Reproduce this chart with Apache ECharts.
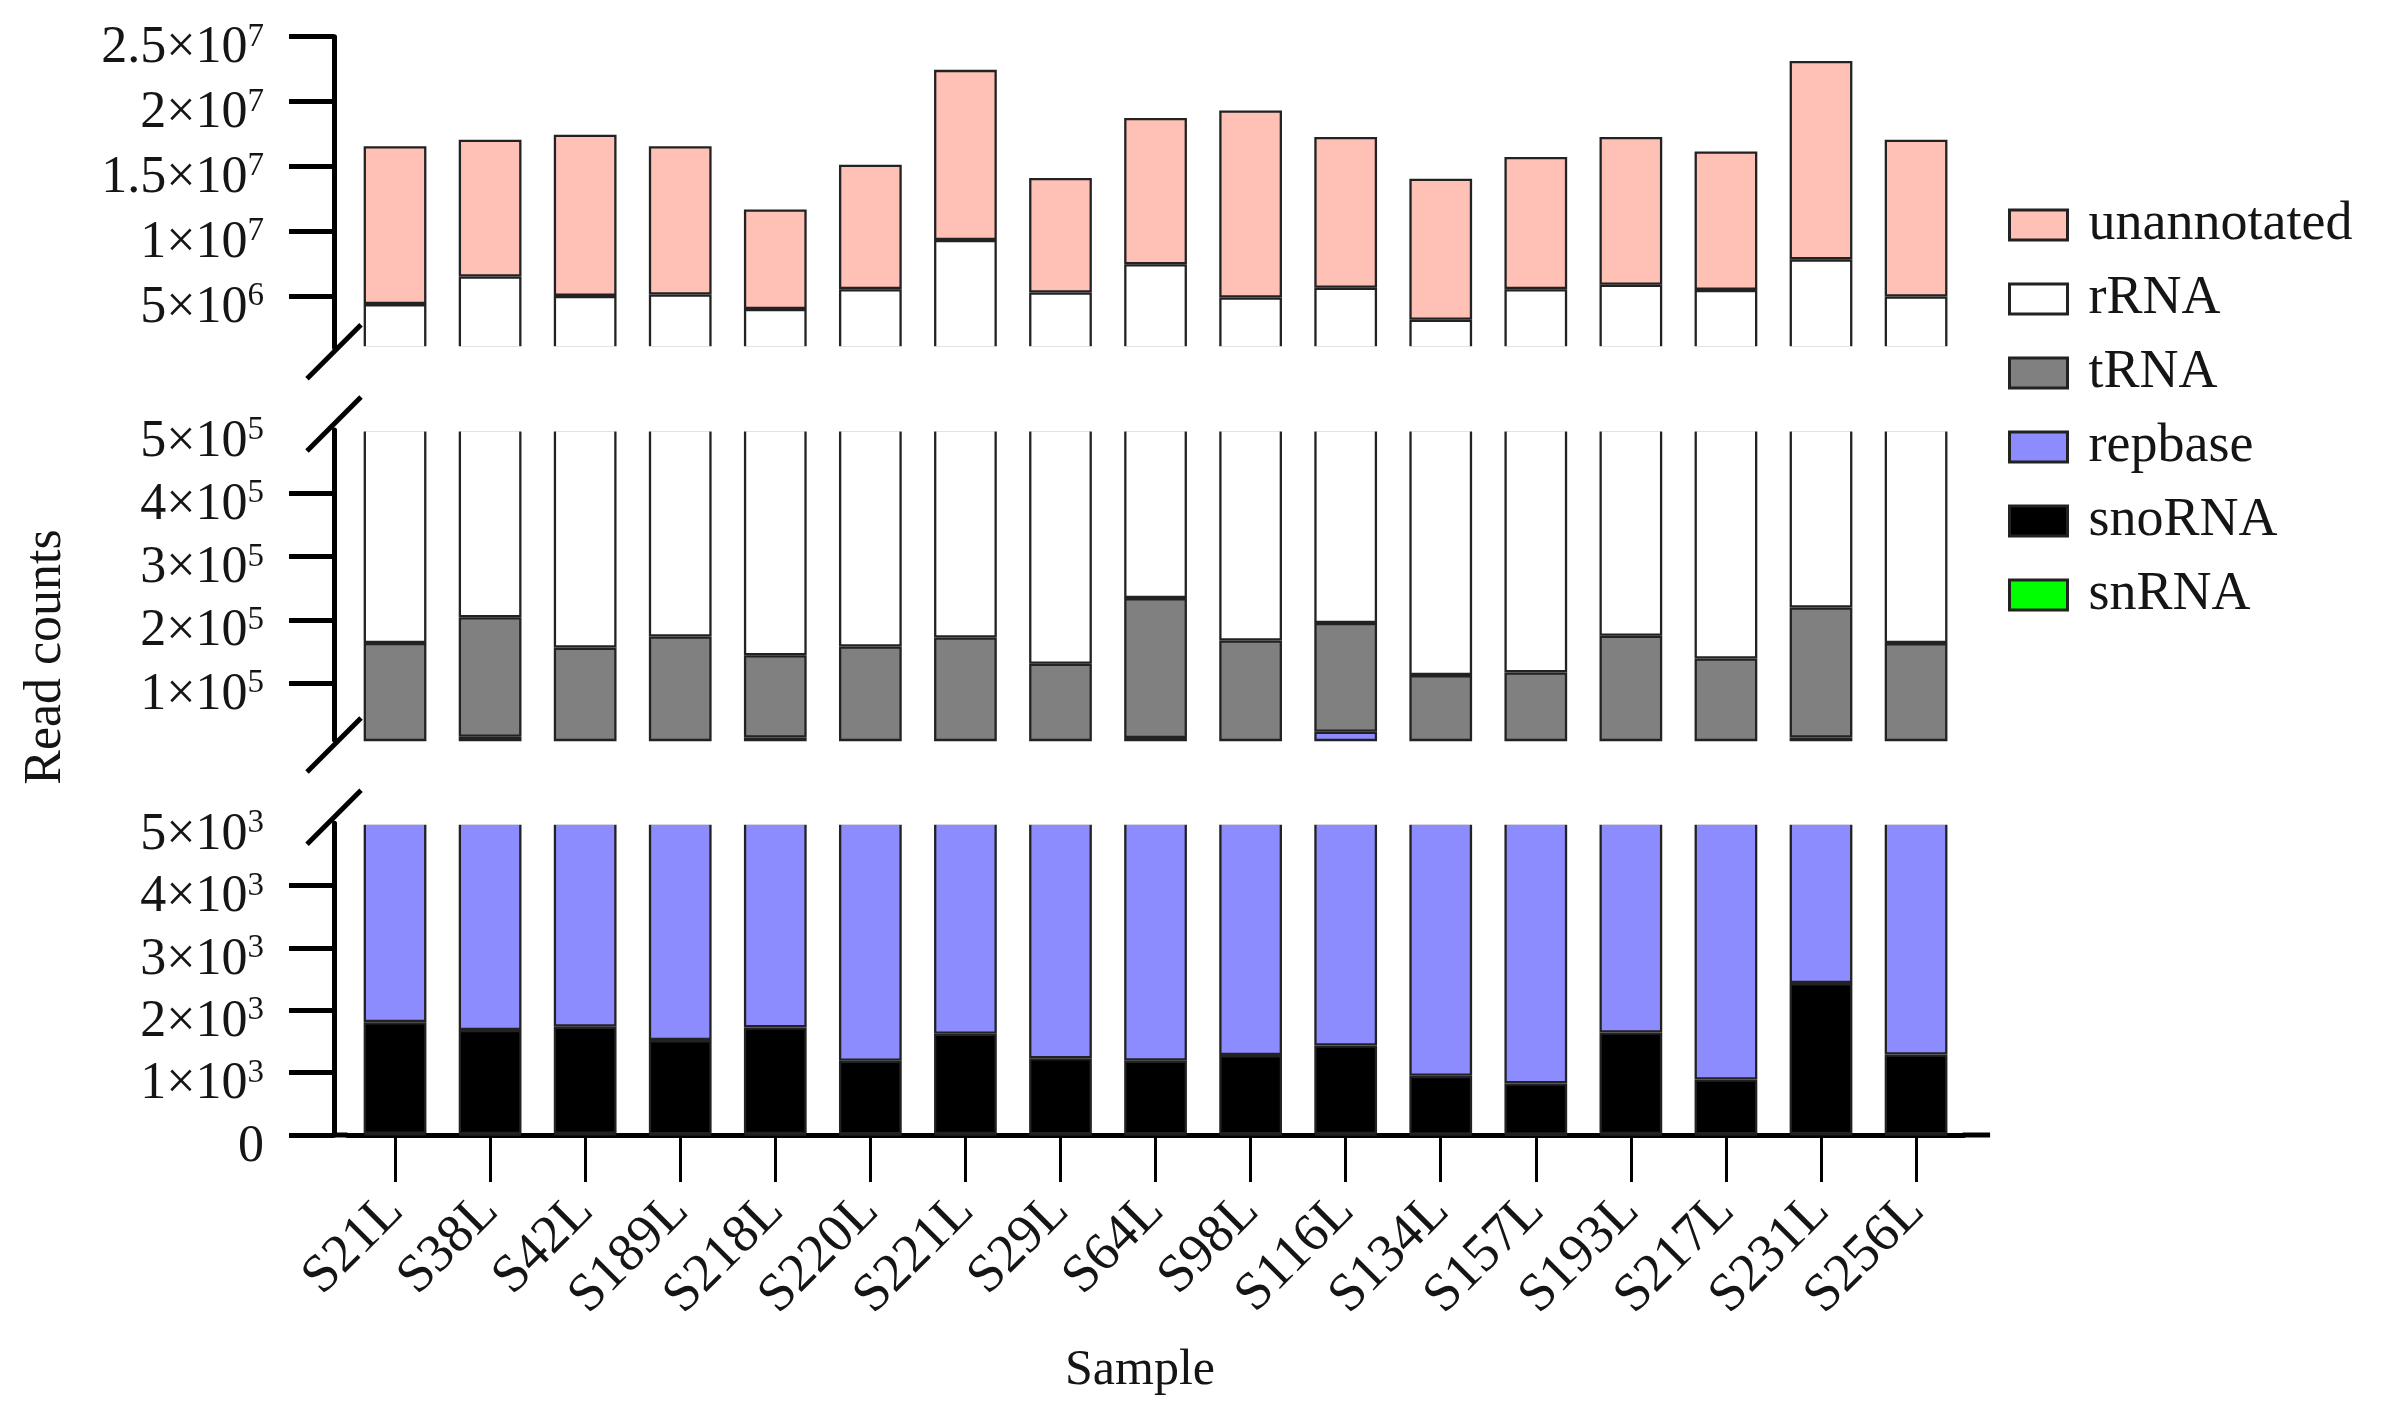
<!DOCTYPE html>
<html><head><meta charset="utf-8">
<script src="https://cdn.jsdelivr.net/npm/echarts@6/dist/echarts.min.js"></script>
<style>html,body{margin:0;padding:0;background:#fff}#c{width:2390px;height:1416px}</style>
</head><body><div id="c"></div>
<script>
// ---------- data ----------
const samples = ['S21L','S38L','S42L','S189L','S218L','S220L','S221L','S29L','S64L','S98L','S116L','S134L','S157L','S193L','S217L','S231L','S256L'];
const snRNA   = [20,15,18,12,16,10,14,11,13,12,15,9,8,14,10,17,12];
const snoRNA  = [1790,1670,1720,1510,1710,1180,1610,1220,1180,1270,1420,940,820,1630,880,2420,1280];
const repbase = [6200,13300,6300,6500,12300,6800,6400,6800,11800,6700,21600,7100,7200,6400,7100,11600,6700];
const tRNA    = [155200,189000,148000,165600,130000,149800,164000,122500,221300,159300,171800,104500,108800,166700,130900,205400,155200];
const rRNA    = [4200000,6290000,4840000,4930000,3840000,5360000,9140000,5130000,7210000,4710000,5430000,3040000,5400000,5680000,5320000,7600000,4790000];
const unannotated = [12180000,10560000,12440000,11440000,7690000,9610000,13130000,8840000,11280000,14430000,11640000,10880000,10200000,11410000,10690000,15310000,12100000];

const topTicks = [5e6, 1e7, 1.5e7, 2e7, 2.5e7];
const midTicks = [1e5, 2e5, 3e5, 4e5, 5e5];
const botTicks = [0, 1e3, 2e3, 3e3, 4e3, 5e3];
const legendOrder = ['unannotated','rRNA','tRNA','repbase','snoRNA','snRNA'];

// ---------- style / layout ----------
const FONT = 'Liberation Serif';
const GL = 347.5, GR = 1963.6, AX_OFF = 13.5;
const panels = [
  {top: 36.7,  height: 311,   min: 1e6, max: 2.5e7, labels: topTicks, ticks: topTicks},
  {top: 430,   height: 310,   min: 1e4, max: 5e5,   labels: midTicks, ticks: midTicks.slice(0, 4)},
  {top: 823.3, height: 311.7, min: 0,   max: 5e3,   labels: botTicks, ticks: botTicks.slice(0, 5)}
];
const stackDefs = [
  {name: 'snRNA', data: snRNA, color: '#00FF00'},
  {name: 'snoRNA', data: snoRNA, color: '#000000'},
  {name: 'repbase', data: repbase, color: '#8C8CFF'},
  {name: 'tRNA', data: tRNA, color: '#808080'},
  {name: 'rRNA', data: rRNA, color: '#FFFFFF'},
  {name: 'unannotated', data: unannotated, color: '#FFC0B6'}
];

function sci(v) {
  if (v === 0) return '{m|0}';
  const e = Math.floor(Math.log10(v) + 1e-9);
  const m = +(v / Math.pow(10, e)).toFixed(2);
  return '{m|' + m + '×10}{s|' + e + '}';
}

const chart = echarts.init(document.getElementById('c'), null, {renderer: 'canvas'});

const series = [];
panels.forEach((p, i) => {
  stackDefs.forEach(d => {
    series.push({
      type: 'bar', name: d.name, xAxisIndex: i, yAxisIndex: i, stack: 'st' + i,
      data: d.data, barWidth: '66%', clip: true,
      itemStyle: {color: d.color, borderColor: '#222', borderWidth: 2.3},
      emphasis: {disabled: true}
    });
  });
});

chart.setOption({
  animation: false,
  backgroundColor: '#fff',
  legend: {
    data: legendOrder, orient: 'vertical', left: 2003, top: 193,
    itemWidth: 58, itemHeight: 30, itemGap: 20, icon: 'rect',
    itemStyle: {borderWidth: 3, borderColor: '#222'},
    textStyle: {fontFamily: FONT, fontSize: 54, color: '#151515', padding: [0, 0, 0, 16]}
  },
  grid: panels.map(p => ({left: GL, right: 2390 - GR, top: p.top, height: p.height})),
  xAxis: panels.map((p, i) => ({
    type: 'category', gridIndex: i, data: samples, show: i === 2,
    axisLine: {show: true, lineStyle: {color: '#000', width: 5}},
    axisTick: {show: true, alignWithLabel: true, length: 47, lineStyle: {color: '#000', width: 3}},
    axisLabel: {rotate: 45, margin: 68, interval: 0, fontFamily: FONT, fontSize: 54, color: '#151515'}
  })),
  yAxis: panels.map((p, i) => ({
    type: 'value', gridIndex: i, min: p.min, max: p.max, offset: AX_OFF,
    splitLine: {show: false},
    axisLine: {show: true, lineStyle: {color: '#000', width: 5}},
    axisTick: {show: true, length: 45, lineStyle: {color: '#000', width: 5}, customValues: p.ticks},
    axisLabel: {
      customValues: p.labels, formatter: sci, margin: 70,
      rich: {
        m: {fontFamily: FONT, fontSize: 52, color: '#151515', padding: [24, 0, 0, 0]},
        s: {fontFamily: FONT, fontSize: 33, color: '#151515', verticalAlign: 'top', padding: [22, 0, 0, 0]}
      }
    }
  })),
  series: series
});

// ---------- decorations: axis breaks, masks at the cut edges, axis extensions, titles ----------
const axX = GL - AX_OFF;
const yTopBottom = chart.convertToPixel({yAxisIndex: 0}, panels[0].min);
const yMidTop = chart.convertToPixel({yAxisIndex: 1}, panels[1].max);
const yMidBottom = chart.convertToPixel({yAxisIndex: 1}, panels[1].min);
const yBotTop = chart.convertToPixel({yAxisIndex: 2}, panels[2].max);
const yZero = chart.convertToPixel({yAxisIndex: 2}, 0);
function slash(yc) {
  return {type: 'line', z: 100, shape: {x1: axX - 27, y1: yc + 27, x2: axX + 27, y2: yc - 27},
          style: {stroke: '#000', lineWidth: 5}};
}
function mask(y1, y2) {
  return {type: 'rect', z: 50, shape: {x: GL + 1, y: y1, width: GR - GL - 2, height: y2 - y1},
          style: {fill: '#fff'}};
}
chart.setOption({
  graphic: [
    mask(yTopBottom - 1.5, yTopBottom + 2.5),
    mask(yMidTop - 2.5, yMidTop + 1.5),
    mask(yBotTop - 2.5, yBotTop + 1.5),
    slash(yTopBottom + 4), slash(yMidTop - 6), slash(yMidBottom + 5), slash(yBotTop - 6),
    {type: 'line', z: 100, shape: {x1: axX, y1: yZero, x2: GL, y2: yZero}, style: {stroke: '#000', lineWidth: 5}},
    {type: 'line', z: 100, shape: {x1: GR - 1, y1: yZero, x2: GR + 26.5, y2: yZero}, style: {stroke: '#000', lineWidth: 5}},
    {type: 'text', x: 46, y: 657, rotation: Math.PI / 2,
     style: {text: 'Read counts', font: '52px "Liberation Serif"', fill: '#151515', textAlign: 'center', textVerticalAlign: 'middle'}},
    {type: 'text', x: 1140, y: 1371,
     style: {text: 'Sample', font: '50px "Liberation Serif"', fill: '#151515', textAlign: 'center', textVerticalAlign: 'middle'}}
  ]
});
</script></body></html>
